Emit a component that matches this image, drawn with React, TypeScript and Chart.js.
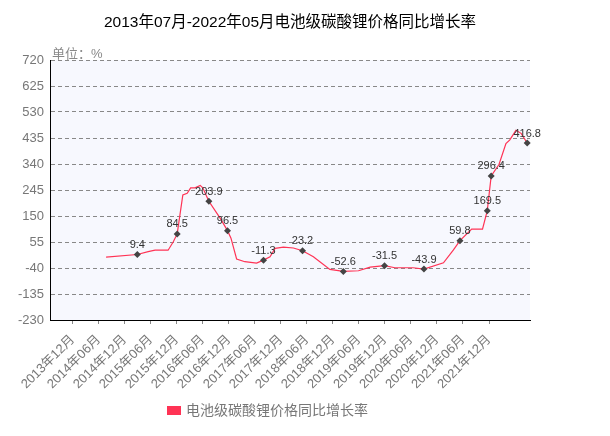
import React, { useEffect, useRef } from "react";
import { Chart, registerables } from "chart.js";

Chart.register(...registerables);

const titleText = "2013年07月-2022年05月电池级碳酸锂价格同比增长率";
const unitText = "单位：%";
const seriesName = "电池级碳酸锂价格同比增长率";
const seriesColor = "#ff3355";

const dates = [
  "2014-07-22", "2015-02-28", "2015-05-13", "2015-07-01", "2015-10-01", "2015-11-07",
  "2015-12-04", "2016-01-13", "2016-02-13", "2016-03-07", "2016-04-07", "2016-05-13",
  "2016-06-01", "2016-07-13", "2016-10-01", "2016-11-22", "2016-12-16", "2017-01-25",
  "2017-03-22", "2017-06-13", "2017-08-01", "2017-09-16", "2017-10-22", "2017-12-19",
  "2018-02-28", "2018-05-01", "2018-07-16", "2018-11-10", "2019-02-13", "2019-05-28",
  "2019-08-19", "2019-11-28", "2020-02-10", "2020-06-16", "2020-09-01", "2021-01-16",
  "2021-03-25", "2021-05-10", "2021-08-01", "2021-10-16", "2021-11-19", "2021-12-16",
  "2022-02-10", "2022-03-28", "2022-04-25", "2022-06-07", "2022-07-13", "2022-08-25",
];
const values = [
  0, 9.4, 20, 25, 25, 56,
  84.5, 227, 233, 253, 253, 262,
  253, 203.9, 142, 96.5, 69, -7,
  -17, -22, -11.3, 1, 32, 36,
  33, 23.2, 1, -45, -52.6, -50,
  -37, -31.5, -39, -39, -43.9, -21,
  26, 59.8, 102, 102, 169.5, 296.4,
  338, 415, 428, 463, 452, 416.8,
];
const labeledDates = [
  "2015-02-28", "2015-12-04", "2016-07-13", "2016-11-22", "2017-08-01", "2018-05-01",
  "2019-02-13", "2019-11-28", "2020-09-01", "2021-05-10", "2021-11-19", "2021-12-16",
  "2022-08-25",
];
const xTickLabels = [
  "2013年12月", "2014年06月", "2014年12月", "2015年06月", "2015年12月", "2016年06月",
  "2016年12月", "2017年06月", "2017年12月", "2018年06月", "2018年12月", "2019年06月",
  "2019年12月", "2020年06月", "2020年12月", "2021年06月", "2021年12月",
];
const yTickValues = [-230, -135, -40, 55, 150, 245, 340, 435, 530, 625, 720];

const FONT = '"Liberation Sans", Arial, "Noto Sans CJK SC", sans-serif';

function monthIndex(s: string): number {
  const [y, m, d] = s.split("-").map(Number);
  return (y - 2013) * 12 + (m - 7) + ((d || 1) - 1) / 30;
}
function labelMonth(l: string): number {
  const y = parseInt(l.slice(0, 4), 10);
  const m = parseInt(l.slice(5, 7), 10);
  return (y - 2013) * 12 + (m - 7);
}

export default function App() {
  const ref = useRef<HTMLCanvasElement | null>(null);

  useEffect(() => {
    if (!ref.current) return;
    const points = dates.map((d, i) => ({ x: monthIndex(d), y: values[i] }));
    const labeled = dates.map((d) => labeledDates.includes(d));
    const tickMap: Record<number, string> = {};
    xTickLabels.forEach((l) => (tickMap[labelMonth(l)] = l));

    const bgPlugin = {
      id: "plotBg",
      beforeDraw(chart: any) {
        const { ctx, chartArea } = chart;
        ctx.save();
        ctx.fillStyle = "#f7f8fe";
        ctx.fillRect(chartArea.left, chartArea.top, chartArea.right - chartArea.left, chartArea.bottom - chartArea.top);
        ctx.restore();
      },
    };
    const labelPlugin = {
      id: "valueLabels",
      afterDatasetsDraw(chart: any) {
        const { ctx } = chart;
        const meta = chart.getDatasetMeta(0);
        ctx.save();
        ctx.font = "11px " + FONT;
        ctx.fillStyle = "#333";
        ctx.textAlign = "center";
        ctx.textBaseline = "bottom";
        meta.data.forEach((el: any, i: number) => {
          if (!labeled[i]) return;
          ctx.fillText(values[i].toFixed(1), el.x, el.y - 4);
        });
        ctx.restore();
      },
    };

    const chart = new Chart(ref.current, {
      type: "line",
      data: {
        datasets: [
          {
            label: seriesName,
            data: points,
            borderColor: seriesColor,
            backgroundColor: seriesColor,
            borderWidth: 1.2,
            tension: 0,
            pointRadius: (c: any) => (labeled[c.dataIndex] ? 3.5 : 0),
            pointHoverRadius: 0,
            pointStyle: "rectRot",
            pointBackgroundColor: "#444",
            pointBorderColor: "#444",
            pointBorderWidth: 0,
            clip: false as any,
          },
        ],
      },
      options: {
        animation: false,
        responsive: false,
        devicePixelRatio: 1,
        layout: { padding: { top: 60, right: 80, left: 0, bottom: 0 } },
        plugins: {
          legend: { display: false },
          title: { display: false },
          tooltip: { enabled: false },
        },
        scales: {
          x: {
            type: "linear",
            min: -0.23,
            max: 110.45,
            afterBuildTicks: (scale: any) => {
              scale.ticks = xTickLabels.map((l) => ({ value: labelMonth(l) }));
            },
            afterFit: (scale: any) => {
              scale.height = 116;
            },
            ticks: {
              autoSkip: false,
              minRotation: 45,
              maxRotation: 45,
              color: "#777",
              font: { size: 13, family: FONT },
              padding: 8,
              callback: (v: any) => tickMap[Math.round(Number(v))] || "",
            },
            grid: {
              drawOnChartArea: false,
              drawTicks: true,
              tickLength: 4,
              tickColor: "#888",
            },
            border: { display: true, color: "#000", width: 1 },
          },
          y: {
            type: "linear",
            min: -230,
            max: 720,
            afterBuildTicks: (scale: any) => {
              scale.ticks = yTickValues.map((v) => ({ value: v }));
            },
            afterFit: (scale: any) => {
              scale.width = 50;
            },
            ticks: {
              color: "#777",
              font: { size: 13, family: FONT },
              padding: 6,
            },
            grid: {
              drawTicks: false,
              color: (c: any) => (c.tick && c.tick.value === -230 ? "rgba(0,0,0,0)" : "#888"),
              lineWidth: 1,
            },
            border: { display: true, color: "#000", width: 1, dash: [4, 3] },
          },
        },
      },
      plugins: [bgPlugin, labelPlugin],
    } as any);
    return () => chart.destroy();
  }, []);

  return (
    <div style={{ position: "fixed", left: 0, top: 0, width: 610, height: 436, background: "#fff" }}>
      <canvas ref={ref} width={610} height={436} style={{ position: "absolute", left: 0, top: 0 }} />
      <div
        style={{
          position: "absolute", left: 0, top: 12, width: 580, textAlign: "center",
          font: "15.5px " + FONT, lineHeight: "20px", color: "#000", whiteSpace: "nowrap",
        }}
      >
        {titleText}
      </div>
      <div
        style={{
          position: "absolute", left: 52, top: 45, font: "13px " + FONT,
          lineHeight: "18px", color: "#888", whiteSpace: "nowrap",
        }}
      >
        {unitText}
      </div>
      <div style={{ position: "absolute", left: 167, top: 401, height: 18, display: "flex", alignItems: "center", whiteSpace: "nowrap" }}>
        <span style={{ display: "inline-block", width: 14, height: 9, background: seriesColor, marginRight: 5 }} />
        <span style={{ font: "14px " + FONT, color: "#777", lineHeight: "18px" }}>{seriesName}</span>
      </div>
    </div>
  );
}
